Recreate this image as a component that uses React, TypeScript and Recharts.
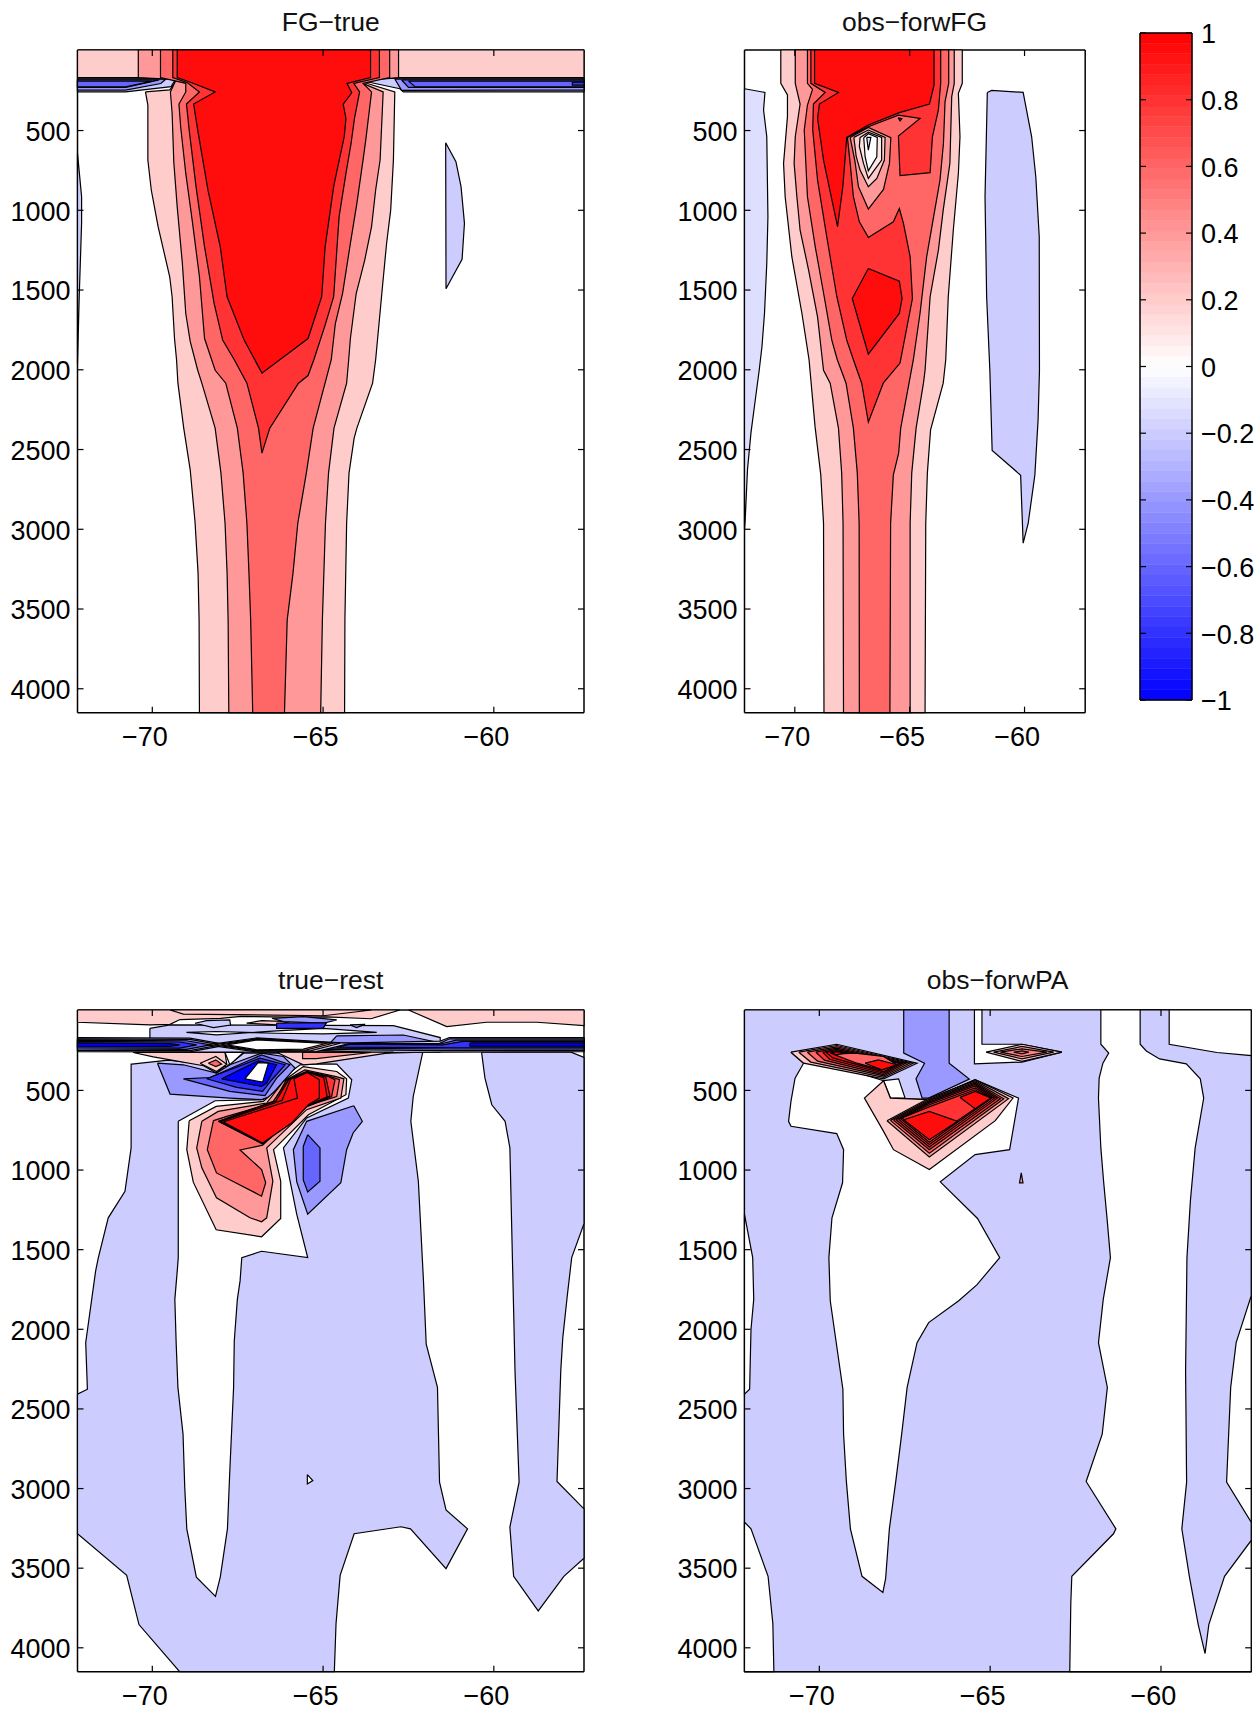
import { ScatterChart, Scatter, XAxis, YAxis, ReferenceArea } from 'recharts'

type Pt = [number, number]
type Layer = { level: number; points: Pt[] }

const lonTicks = [-70, -65, -60]
const depthTicks = [500, 1000, 1500, 2000, 2500, 3000, 3500, 4000]
const lonRange = [-72.19, -57.36]
const depthRange = [-5, 4150]
const barTicks = [-1, -0.8, -0.6, -0.4, -0.2, 0, 0.2, 0.4, 0.6, 0.8, 1]

// colorbar bands, bottom to top
const barEdges = [
  -1, -0.96875, -0.9375, -0.90625, -0.875, -0.84375, -0.8125, -0.78125, -0.75, -0.71875, -0.6875, -0.65625, -0.625,
  -0.59375, -0.5625, -0.53125, -0.5, -0.46875, -0.4375, -0.40625, -0.375, -0.34375, -0.3125, -0.28125, -0.25, -0.21875,
  -0.1875, -0.15625, -0.125, -0.09375, -0.0625, -0.03125, 0, 0.03125, 0.0625, 0.09375, 0.125, 0.15625, 0.1875, 0.21875,
  0.25, 0.28125, 0.3125, 0.34375, 0.375, 0.40625, 0.4375, 0.46875, 0.5, 0.53125, 0.5625, 0.59375, 0.625, 0.65625, 0.6875,
  0.71875, 0.75, 0.78125, 0.8125, 0.84375, 0.875, 0.90625, 0.9375, 0.96875, 1,
]
const barShades = [
  4, 11, 19, 27, 35, 43, 51, 59, 67, 75, 83, 91, 99, 107, 115, 123, 131, 139, 147, 155, 163, 171, 179, 187, 195, 203, 211,
  219, 227, 235, 243, 251,
]

// ---- FG-true ----
const fgStrip: Pt[] = [[-72.19, -5], [-57.36, -5], [-57.36, 168], [-72.19, 168]]
const fgBlueL1: Pt[] = [[-72.19, 172], [-69.3, 172], [-69.45, 225], [-70.78, 258], [-72.19, 258]]
const fgBlueL2: Pt[] = [[-72.19, 177], [-69.6, 177], [-69.75, 205], [-70.78, 246], [-72.19, 246]]
const fgBlueL3: Pt[] = [[-72.19, 183], [-69.8, 183], [-70.78, 229], [-72.19, 229]]
const fgBlueL4: Pt[] = [[-72.19, 190], [-70, 190], [-70.78, 226], [-72.19, 226]]
const fgBlueR1: Pt[] = [[-64.2, 172], [-57.36, 172], [-57.36, 258], [-62.65, 258], [-62.75, 238]]
const fgBlueR2: Pt[] = [[-62.9, 177], [-57.36, 177], [-57.36, 246], [-62.7, 248]]
const fgBlueR3: Pt[] = [[-62.7, 183], [-57.36, 183], [-57.36, 229], [-62.5, 229]]
const fgBlueR4: Pt[] = [[-62.5, 190], [-57.36, 190], [-57.36, 226], [-62.3, 226]]
const fgBlueR5: Pt[] = [[-57.7, 196], [-57.36, 196], [-57.36, 215], [-57.7, 215]]
const fgSliver: Pt[] = [[-72.19, 643], [-72.07, 915], [-72.07, 1082], [-72.14, 1542], [-72.19, 1960]]
const fgLobe: Pt[] = [[-61.41, 576], [-61.11, 695], [-60.96, 852], [-60.86, 1082], [-60.93, 1308], [-61.4, 1492]]
const fgPlume1: Pt[] = [
  [-70.2, 258], [-70.13, 340], [-70.13, 685], [-70.03, 873], [-69.83, 1103], [-69.49, 1417], [-69.42, 1542], [-69.35, 1804],
  [-69.29, 1937], [-69.25, 2084], [-69.08, 2366], [-68.89, 2627], [-68.75, 2951], [-68.66, 3275], [-68.63, 3568], [-68.62, 4150],
  [-64.37, 4150], [-64.36, 3568], [-64.31, 2962], [-64.24, 2648], [-64.09, 2429], [-64.01, 2366], [-63.55, 2084], [-63.46, 1937],
  [-63.27, 1500], [-63.14, 1208], [-63.02, 999], [-62.94, 685], [-62.9, 258], [-63.7, 205], [-64.2, 168], [-69.25, 168],
  [-69.35, 205], [-69.49, 245],
]
const fgPlume2: Pt[] = [
  [-70.41, -5], [-70.41, 168], [-69.3, 180], [-69.47, 258], [-69.42, 390], [-69.37, 700], [-69.27, 980], [-69.12, 1333],
  [-69.02, 1647], [-68.89, 1822], [-68.67, 2003], [-68.55, 2084], [-68.16, 2366], [-67.99, 2648], [-67.87, 2962], [-67.81, 3275],
  [-67.78, 3568], [-67.76, 4150], [-65.07, 4150], [-65.02, 3568], [-64.93, 2962], [-64.84, 2648], [-64.68, 2366], [-64.31, 2084],
  [-64.25, 1937], [-64.2, 1804], [-64.03, 1522], [-63.78, 1312], [-63.58, 1103], [-63.46, 873], [-63.33, 685], [-63.24, 258],
  [-64, 190], [-62.79, 168], [-62.79, -5],
]
const fgPlume3: Pt[] = [
  [-69.76, -5], [-69.76, 168], [-69.02, 204], [-69.02, 258], [-69.22, 334], [-69.17, 476], [-69.02, 769], [-68.82, 1082],
  [-68.62, 1417], [-68.47, 1804], [-68.16, 2003], [-67.85, 2084], [-67.51, 2366], [-67.34, 2648], [-67.23, 2962], [-67.17, 3275],
  [-67.12, 3568], [-67.06, 4150], [-66.13, 4150], [-66.05, 3568], [-65.88, 3275], [-65.74, 2962], [-65.49, 2648], [-65.29, 2366],
  [-64.76, 1937], [-64.64, 1710], [-64.43, 1522], [-64.2, 1208], [-64.01, 957], [-63.83, 685], [-63.75, 560], [-63.58, 258],
  [-63.83, 204], [-63.05, 168], [-63.05, -5],
]
const fgPlume4: Pt[] = [
  [-69.4, -5], [-69.4, 168], [-68.97, 200], [-68.62, 258], [-69, 334], [-68.92, 497], [-68.72, 852], [-68.47, 1229], [-68.19, 1584],
  [-67.94, 1814], [-67.6, 1937], [-67.23, 2084], [-66.89, 2366], [-66.79, 2523], [-66.56, 2366], [-65.72, 2084], [-65.44, 2036],
  [-65.27, 1937], [-64.94, 1720], [-64.69, 1542], [-64.53, 1040], [-64.33, 769], [-64.18, 581], [-64.08, 424], [-63.93, 258],
  [-64.1, 204], [-63.35, 168], [-63.35, -5],
]
const fgPlume5: Pt[] = [
  [-69.27, -5], [-69.27, 168], [-68.92, 194], [-68.16, 258], [-68.79, 334], [-68.67, 497], [-68.37, 873], [-68.01, 1229],
  [-67.81, 1542], [-67.31, 1814], [-66.79, 2021], [-65.44, 1804], [-65.04, 1542], [-64.94, 1229], [-64.69, 852], [-64.59, 748],
  [-64.38, 539], [-64.33, 424], [-64.41, 334], [-64.16, 263], [-64.3, 204], [-63.61, 168], [-63.61, -5],
]

// ---- obs-forwFG ----
const fgObsLeft: Pt[] = [
  [-72.19, 238], [-71.3, 261], [-71.36, 371], [-71.22, 539], [-71.17, 1040], [-71.22, 1333], [-71.32, 1647], [-71.43, 1856],
  [-71.55, 2003], [-71.72, 2188], [-71.91, 2397], [-72.06, 2627], [-72.16, 2941], [-72.19, 3000],
]
const fgObsRight: Pt[] = [
  [-61.62, 261], [-61.43, 248], [-60.06, 261], [-59.69, 539], [-59.51, 790], [-59.36, 1166], [-59.35, 2003], [-59.41, 2314],
  [-59.55, 2659], [-59.84, 2962], [-60.06, 3087], [-60.17, 2661], [-61.41, 2506], [-61.51, 2003], [-61.65, 1542], [-61.72, 915],
]
const fgObs1: Pt[] = [
  [-70.61, -5], [-70.61, 204], [-70.32, 277], [-70.32, 413], [-70.49, 706], [-70.42, 915], [-70.13, 1291], [-69.69, 1647],
  [-69.38, 1937], [-69.12, 2355], [-68.87, 2659], [-68.75, 2962], [-68.73, 4150], [-64.33, 4150], [-64.3, 2962], [-64.23, 2648],
  [-64.09, 2376], [-63.54, 2084], [-63.43, 1937], [-63.32, 1542], [-63.1, 1124], [-62.88, 769], [-62.81, 539], [-62.88, 267],
  [-62.71, 204], [-62.71, -5],
]
const fgObs2: Pt[] = [
  [-69.98, -5], [-69.98, 204], [-69.77, 334], [-69.98, 539], [-70.03, 706], [-69.91, 915], [-69.77, 1124], [-69.4, 1375],
  [-69.01, 1668], [-68.75, 2003], [-68.46, 2084], [-68.1, 2366], [-67.96, 2648], [-67.9, 2962], [-67.88, 4150], [-64.98, 4150],
  [-64.98, 2962], [-64.91, 2648], [-64.72, 2366], [-64.4, 2084], [-64.33, 2003], [-64.11, 1542], [-63.75, 1250], [-63.54, 999],
  [-63.25, 706], [-63.17, 288], [-63.06, 204], [-63.06, -5],
]
const fgObs3: Pt[] = [
  [-69.45, -5], [-69.45, 204], [-69.23, 242], [-69.45, 340], [-69.59, 497], [-69.45, 915], [-69.11, 1229], [-68.72, 1542],
  [-68.39, 1814], [-68.15, 1937], [-67.77, 2084], [-67.45, 2366], [-67.28, 2648], [-67.2, 2962], [-67.19, 4150], [-65.86, 4150],
  [-65.83, 2962], [-65.71, 2659], [-65.48, 2523], [-65.39, 2366], [-64.84, 1937], [-64.55, 1647], [-64.26, 1291], [-63.68, 811],
  [-63.53, 581], [-63.46, 319], [-63.3, 204], [-63.3, -5],
]
const fgObs4: Pt[] = [
  [-69.3, -5], [-69.3, 204], [-68.68, 261], [-69.19, 334], [-69.22, 497], [-69.01, 811], [-68.61, 1166], [-68.17, 1542],
  [-67.74, 1814], [-67.45, 1937], [-67.09, 2084], [-66.8, 2328], [-66.15, 2084], [-65.42, 1958], [-64.88, 1553], [-64.98, 1291],
  [-65.27, 1082], [-65.45, 989], [-65.71, 1072], [-66.8, 1170], [-67.19, 1072], [-67.45, 915], [-67.59, 706], [-67.71, 543],
  [-66.8, 476], [-65.49, 403], [-64.55, 424], [-65.49, 534], [-65.42, 783], [-64.11, 764], [-64.01, 539], [-63.75, 371],
  [-63.65, 204], [-63.65, -5],
]
const fgObs5: Pt[] = [
  [-69.14, -5], [-69.14, 204], [-68.1, 261], [-68.93, 334], [-69.01, 424], [-68.75, 685], [-68.14, 1103], [-67.91, 852],
  [-67.74, 543], [-66.8, 465], [-65.45, 388], [-64.14, 334], [-63.94, 215], [-63.94, -5],
]
const fgObsBlob: Pt[] = [[-66.8, 1365], [-65.45, 1444], [-65.33, 1553], [-65.45, 1647], [-66.8, 1902], [-67.5, 1553]]
const fgObsHole1: Pt[] = [
  [-67.59, 543], [-66.8, 480], [-65.82, 545], [-65.88, 706], [-66.14, 869], [-66.8, 992], [-67.23, 852], [-67.38, 695],
]
const fgObsHole2: Pt[] = [
  [-67.43, 543], [-66.8, 497], [-66.07, 543], [-66.1, 685], [-66.43, 800], [-66.8, 852], [-67.16, 748], [-67.33, 660],
]
const fgObsHole3: Pt[] = [
  [-67.16, 543], [-66.8, 510], [-66.22, 543], [-66.22, 685], [-66.8, 800], [-67.01, 706], [-67.19, 600],
]
const fgObsHole4: Pt[] = [[-67, 545], [-66.8, 520], [-66.41, 543], [-66.43, 664], [-66.8, 753], [-66.94, 664]]
const fgObsHole5: Pt[] = [[-66.87, 543], [-66.69, 543], [-66.8, 623]]
const fgObsDot: Pt[] = [[-65.5, 420], [-65.34, 425], [-65.42, 440]]

// ---- true-rest ----
const trMain: Pt[] = [
  [-70.6, 335], [-69.53, 310], [-67.82, 350], [-67.33, 266], [-63.14, 266], [-62.08, 260], [-62.36, 538], [-62.43, 694],
  [-62.21, 1070], [-62.06, 1696], [-61.98, 2094], [-61.65, 2365], [-61.59, 2960], [-61.4, 3134], [-60.77, 3253], [-61.4, 3503],
  [-62.44, 3253], [-62.72, 3240], [-64.09, 3284], [-64.5, 3545], [-64.62, 3848], [-64.67, 4150], [-69.2, 4150], [-70.39, 3854],
  [-70.75, 3545], [-72.19, 3284], [-72.19, 2407], [-71.9, 2376], [-71.95, 2084], [-71.66, 1635], [-71.58, 1550], [-71.29, 1300],
  [-70.8, 1133], [-70.62, 861], [-70.62, 335],
]
const trRight: Pt[] = [
  [-60.36, 260], [-60.26, 423], [-60.06, 590], [-59.67, 694], [-59.53, 861], [-59.44, 1700], [-59.38, 2261], [-59.26, 2960],
  [-59.53, 3242], [-59.42, 3551], [-58.7, 3768], [-57.95, 3551], [-57.36, 3437], [-57.36, 3128], [-58.15, 2956], [-58.04, 2261],
  [-57.98, 2052], [-57.85, 1791], [-57.72, 1550], [-57.36, 1337], [-57.36, 293], [-57.74, 260],
]
const trGap: Pt[] = [
  [-69.24, 694], [-68.16, 565], [-66.75, 558], [-66.46, 506], [-66.26, 433], [-65.67, 339], [-65.19, 333], [-64.6, 335],
  [-64.16, 433], [-64.26, 548], [-65.48, 673], [-66.16, 861], [-65.77, 1279], [-65.45, 1550], [-66.8, 1510], [-67.38, 1550],
  [-67.43, 1696], [-67.51, 1812], [-67.6, 2073], [-67.62, 2365], [-67.73, 2887], [-67.8, 3253], [-68.01, 3556], [-68.15, 3677],
  [-68.71, 3556], [-68.99, 3253], [-69.05, 2992], [-69.1, 2658], [-69.25, 2365], [-69.3, 2094], [-69.34, 1812], [-69.27, 1635],
  [-69.24, 1550],
]
const trSpeck: Pt[] = [[-65.46, 2912], [-65.3, 2950], [-65.46, 2971]]
const trPink1: Pt[] = [
  [-68.92, 690], [-68.13, 600], [-66.75, 569], [-66.36, 496], [-66.07, 427], [-65.58, 350], [-64.6, 381], [-64.31, 427],
  [-64.33, 527], [-65.43, 653], [-66.45, 872], [-66.24, 1070], [-66.24, 1304], [-66.8, 1419], [-68.13, 1375], [-68.8, 1076], [-68.99, 872],
]
const trPink2: Pt[] = [
  [-68.55, 694], [-68.07, 632], [-66.65, 579], [-66.16, 444], [-65.53, 371], [-64.65, 412], [-64.39, 427], [-64.48, 548],
  [-65.48, 621], [-66.65, 861], [-66.47, 1070], [-66.65, 1300], [-66.8, 1325], [-67.14, 1300], [-68.12, 1174], [-68.55, 986], [-68.7, 861],
]
const trPink3: Pt[] = [
  [-68.21, 690], [-67.82, 663], [-66.46, 579], [-66.07, 433], [-65.48, 381], [-64.8, 412], [-64.52, 433], [-64.6, 538],
  [-65.53, 600], [-66.77, 844], [-67.43, 874], [-66.8, 997], [-66.68, 1080], [-66.8, 1164], [-68.12, 1018], [-68.39, 872],
]
const trPink4: Pt[] = [
  [-68.07, 694], [-66.46, 569], [-66.02, 433], [-65.46, 385], [-64.85, 412], [-64.65, 433], [-64.75, 538], [-65.58, 611], [-66.77, 836],
]
const trRed0: Pt[] = [
  [-68.04, 695], [-66.38, 566], [-66, 431], [-65.46, 385], [-64.92, 416], [-64.8, 536], [-65.54, 605], [-66.77, 834],
]
const trRed1: Pt[] = [
  [-68, 696], [-66.2, 562], [-65.95, 430], [-65.46, 386], [-64.98, 420], [-64.88, 540], [-65.5, 600], [-66.77, 833],
]
const trRed2: Pt[] = [
  [-67.92, 698], [-65.75, 548], [-65.85, 427], [-65.46, 387], [-65.11, 433], [-65.11, 548], [-65.43, 590], [-65.92, 705], [-66.77, 830],
]
const trPatch1: Pt[] = [
  [-64.1, 596], [-63.85, 694], [-64.12, 767], [-64.31, 872], [-64.48, 1080], [-65.45, 1277], [-65.77, 1074], [-65.87, 872], [-65.48, 694],
]
const trPatch2: Pt[] = [[-65.45, 778], [-65.09, 861], [-65.09, 1070], [-65.45, 1137], [-65.58, 1062], [-65.58, 852]]
const trBlue1: Pt[] = [
  [-69.85, 329], [-69.48, 523], [-67.73, 548], [-66.8, 558], [-66.55, 538], [-65.82, 360], [-66.16, 287], [-66.8, 266], [-67.73, 339],
  [-68.12, 391], [-69.09, 339],
]
const trBlue2: Pt[] = [[-69.09, 427], [-68.31, 419], [-66.8, 277], [-65.97, 339], [-66.36, 423], [-66.7, 533], [-67.73, 506]]
const trBlue3: Pt[] = [[-68.41, 427], [-66.85, 297], [-66.11, 339], [-66.5, 433], [-66.77, 506], [-67.53, 481]]
const trBlue4: Pt[] = [[-67.97, 427], [-66.9, 314], [-66.36, 339], [-66.65, 454], [-66.8, 475]]
const trBlue5: Pt[] = [[-67.29, 427], [-66.9, 325], [-66.6, 329], [-66.77, 448]]
const trUpperBand: Pt[] = [[-70.07, 110], [-69.48, 89], [-62.94, 93], [-61.57, 168], [-61.57, 260], [-70.07, 260]]
const trWedge: Pt[] = [[-64.6, 158], [-62.65, 152], [-61.67, 197], [-61.7, 250], [-65, 250]]
const trLeftBand0: Pt[] = [[-72.19, 168], [-68.9, 172], [-67.8, 214], [-68.9, 258], [-72.19, 256]]
const trLeftBand1: Pt[] = [[-72.19, 176], [-68.9, 180], [-68, 214], [-68.9, 250], [-72.19, 248]]
const trLeftBand2: Pt[] = [[-72.19, 184], [-69, 188], [-68.3, 214], [-69, 242], [-72.19, 240]]
const trLeftBand3: Pt[] = [[-72.19, 192], [-69.2, 196], [-68.7, 214], [-69.2, 234], [-72.19, 232]]
const trLeftBand4: Pt[] = [[-72.19, 202], [-69.5, 206], [-69.2, 214], [-69.5, 224], [-72.19, 222]]
const trRightBand0: Pt[] = [[-64.9, 204], [-61.57, 190], [-61.3, 168], [-57.36, 168], [-57.36, 256], [-63.5, 262], [-65.5, 245]]
const trRightBand1: Pt[] = [[-64.7, 206], [-61.6, 206], [-61.3, 176], [-57.36, 176], [-57.36, 248], [-61.5, 250], [-65.2, 242]]
const trRightBand2: Pt[] = [[-64.5, 208], [-61.6, 210], [-61.1, 184], [-57.36, 184], [-57.36, 240], [-61.3, 240], [-64.9, 235]]
const trRightBand3: Pt[] = [[-64.2, 210], [-61.5, 214], [-60.9, 192], [-57.36, 192], [-57.36, 232], [-61.1, 232], [-64.6, 228]]
const trRightBand4: Pt[] = [[-60.7, 202], [-57.36, 202], [-57.36, 222], [-60.7, 222]]
const trHalo1: Pt[] = [[-68.4, 214], [-66.94, 170], [-64.2, 204], [-65.2, 256], [-66.94, 258]]
const trHalo2: Pt[] = [[-68.2, 214], [-66.94, 175], [-64.5, 204], [-65.35, 250], [-66.94, 253]]
const trHalo3: Pt[] = [[-68, 214], [-66.94, 179], [-64.7, 204], [-65.48, 245], [-66.94, 249]]
const trDiamond: Pt[] = [[-67.82, 214], [-66.94, 183], [-64.89, 204], [-65.58, 241], [-66.94, 245]]
const trPinkLeft: Pt[] = [[-70.56, 262], [-67.87, 262], [-67.82, 335], [-68.12, 391], [-68.5, 345], [-69.97, 289]]
const trPinkLeftIn: Pt[] = [[-68.6, 329], [-68.14, 287], [-67.82, 335], [-68.12, 381]]
const trPinkLeftCore: Pt[] = [[-68.36, 329], [-68.14, 308], [-67.97, 335], [-68.14, 350]]
const trPinkRight: Pt[] = [[-66.36, 260], [-62.94, 260], [-65.19, 333], [-65.58, 339]]
const trPinkRightIn: Pt[] = [[-65.6, 262], [-63.6, 262], [-65.2, 300], [-65.6, 300]]
const trNotch: Pt[] = [[-67.87, 262], [-67.33, 262], [-67.73, 339]]
const trTopLeft: Pt[] = [
  [-72.19, -5], [-72.19, 72], [-70.07, 89], [-69.48, 85], [-69.19, 55], [-68, 48], [-67.4, 35], [-66, 40], [-64.9, 38], [-63.6, 50], [-62.75, -5],
]
const trTopWedge: Pt[] = [[-69.48, -5], [-69.09, 21], [-64.99, 31], [-63.58, -5]]
const trTopRight: Pt[] = [[-62.5, -5], [-61.38, 99], [-60.21, 72], [-58.74, 72], [-57.36, 93], [-57.36, -5]]
const trLensBlue: Pt[] = [[-68.75, 78], [-68.41, 62], [-67.73, 57], [-67.71, 89], [-68.21, 105]]
const trLensPink: Pt[] = [[-67.24, 78], [-66.8, 62], [-65.97, 68], [-66.36, 89]]
const trLensMid: Pt[] = [[-66.5, 47], [-65.58, 37], [-64.6, 57], [-64.99, 78], [-66.16, 68]]
const trLensSmall: Pt[] = [[-64.21, 89], [-63.77, 85], [-64.02, 105]]
const trBar: Pt[] = [[-66.36, 78], [-64.9, 75], [-65, 110], [-66.36, 110]]
const trLensWhite: Pt[] = [
  [-69, 135], [-68.12, 151], [-66.36, 126], [-64.99, 110], [-63.43, 135], [-64.99, 145], [-66.36, 141], [-68.12, 130],
]

// ---- obs-forwPA ----
const paBase: Pt[] = [[-72.19, -5], [-57.36, -5], [-57.36, 4150], [-72.19, 4150]]
const paColumn: Pt[] = [
  [-67.53, -5], [-67.53, 266], [-66.92, 329], [-67.17, 427], [-66.99, 548], [-66.8, 548], [-65.61, 429], [-66.2, 329], [-66.2, -5],
]
const paLeftGap: Pt[] = [[-72.19, 1279], [-71.95, 1550], [-71.92, 1812], [-72, 2000], [-72.04, 2376], [-72.19, 2407]]
const paCorner: Pt[] = [[-72.19, 3211], [-72, 3253], [-71.5, 3551], [-71.36, 3848], [-71.33, 4150], [-72.19, 4150]]
const paCentre: Pt[] = [
  [-70.83, 260], [-70.46, 329], [-70.71, 423], [-70.83, 569], [-70.9, 694], [-70.83, 725], [-69.49, 771], [-69.29, 872], [-69.32, 1080],
  [-69.63, 1300], [-69.72, 1550], [-69.68, 1821], [-69.31, 2376], [-69.29, 2658], [-69.21, 2950], [-69.09, 3253], [-68.75, 3551],
  [-68.14, 3652], [-68.06, 3566], [-67.95, 3253], [-67.76, 2950], [-67.59, 2658], [-67.43, 2365], [-67.14, 2084], [-66.8, 1958],
  [-65.92, 1821], [-65.39, 1721], [-64.72, 1550], [-65.37, 1304], [-66.46, 1074], [-65.44, 903], [-64.43, 872], [-64.17, 548],
  [-65.44, 433], [-66.8, 558], [-67.92, 548], [-68.12, 439],
]
const paGapSmall: Pt[] = [[-68.12, 439], [-67.68, 427], [-67.49, 548], [-67.92, 548]]
const paBox: Pt[] = [[-65.46, -5], [-65.46, 333], [-64.07, 322], [-62.9, 260], [-64.07, 210], [-65.24, 210], [-65.24, -5]]
const paChannel: Pt[] = [
  [-61.76, -5], [-61.76, 210], [-61.53, 266], [-61.7, 329], [-61.81, 423], [-61.83, 548], [-61.76, 861], [-61.68, 1070], [-61.58, 1300],
  [-61.48, 1550], [-61.69, 1812], [-61.83, 2084], [-61.57, 2365], [-61.72, 2658], [-62.19, 2956], [-61.32, 3253], [-61.39, 3284],
  [-62.61, 3551], [-62.64, 3723], [-62.67, 4150], [-57.36, 4150], [-57.36, -5],
]
const paRight: Pt[] = [
  [-60.61, -5], [-60.61, 210], [-60.43, 252], [-60.04, 302], [-59.26, 333], [-58.85, 427], [-58.75, 548], [-59, 861], [-59.14, 1195],
  [-59.24, 1550], [-59.28, 2261], [-59.25, 2960], [-59.39, 3253], [-59.17, 3551], [-58.91, 3854], [-58.71, 4036], [-58.6, 3854],
  [-58.14, 3551], [-57.36, 3326], [-57.36, 3211], [-58.08, 2960], [-57.96, 2365], [-57.8, 2084], [-57.36, 1791], [-57.36, 281],
  [-58.36, 262], [-59.76, 210], [-59.76, -5],
]
const paDrop: Pt[] = [[-64.09, 1018], [-64.04, 1080], [-64.14, 1080]]
const paStrip0: Pt[] = [[-70.83, 260], [-69.49, 210], [-67.14, 329], [-68.12, 427], [-70.46, 329]]
const paStrip1: Pt[] = [[-70.6, 260], [-69.49, 218], [-67.25, 329], [-68.12, 418], [-70.25, 322]]
const paStrip2: Pt[] = [[-70.35, 260], [-69.49, 226], [-67.36, 329], [-68.12, 409], [-70.05, 316]]
const paStrip3: Pt[] = [[-70.1, 260], [-69.49, 234], [-67.47, 329], [-68.12, 400], [-69.85, 310]]
const paStrip4: Pt[] = [[-69.9, 261], [-69.49, 242], [-67.56, 329], [-68.12, 392], [-69.7, 304]]
const paStrip5: Pt[] = [[-69.8, 262], [-69.49, 250], [-67.64, 331], [-68.12, 383], [-69.6, 296]]
const paStripCore: Pt[] = [[-69.6, 272], [-68.95, 266], [-68.12, 287], [-67.73, 339], [-68.17, 371], [-68.9, 329]]
const paStripSpotA: Pt[] = [[-69.68, 266], [-69.49, 256], [-69.24, 266], [-69.49, 275]]
const paStripSpotB: Pt[] = [[-68.66, 329], [-68.27, 308], [-67.73, 339], [-68.17, 371]]
const paBlob0: Pt[] = [
  [-68.12, 439], [-68.68, 548], [-68.12, 757], [-67.83, 872], [-66.78, 997], [-64.85, 690], [-64.33, 548], [-65.44, 433], [-66.78, 558], [-67.92, 548],
]
const paBlob1: Pt[] = [[-68.02, 690], [-66.78, 918], [-64.46, 552], [-65.44, 439], [-66.78, 548]]
const paBlob2: Pt[] = [[-67.92, 688], [-66.78, 895], [-64.6, 552], [-65.44, 447], [-66.78, 556]]
const paBlob3: Pt[] = [[-67.83, 686], [-66.78, 872], [-64.7, 552], [-65.44, 455], [-66.78, 564]]
const paBlob4: Pt[] = [[-67.75, 684], [-66.78, 855], [-64.8, 550], [-65.44, 463], [-66.78, 572]]
const paBlob5: Pt[] = [[-67.68, 682], [-66.78, 840], [-64.88, 550], [-65.44, 472], [-66.78, 580]]
const paBlob6: Pt[] = [[-67.62, 678], [-66.78, 825], [-64.95, 548], [-65.44, 485], [-66.78, 590]]
const paBlob7: Pt[] = [[-67.58, 673], [-66.78, 809], [-64.98, 548], [-65.44, 496], [-66.75, 600]]
const paBlobSpotA: Pt[] = [[-67.53, 684], [-66.78, 632], [-65.95, 694], [-66.78, 809]]
const paBlobSpotB: Pt[] = [[-65.88, 544], [-65.44, 506], [-64.98, 548], [-65.44, 615]]
const paSpot0: Pt[] = [[-65.12, 260], [-64.07, 210], [-62.9, 260], [-64.07, 318]]
const paSpot1: Pt[] = [[-64.9, 260], [-64.07, 224], [-63.14, 260], [-64.07, 302]]
const paSpot2: Pt[] = [[-64.7, 260], [-64.07, 239], [-63.34, 260], [-64.07, 287]]
const paSpot3: Pt[] = [[-64.31, 260], [-64.07, 252], [-63.87, 260], [-64.07, 270]]

const fgTrueLayers: Layer[] = [
  { level: 0.2, points: fgStrip },
  { level: -0.2, points: fgBlueL1 }, { level: -0.4, points: fgBlueL2 }, { level: -0.6, points: fgBlueL3 }, { level: -0.6, points: fgBlueL4 },
  { level: -0.2, points: fgBlueR1 }, { level: -0.4, points: fgBlueR2 }, { level: -0.6, points: fgBlueR3 }, { level: -0.6, points: fgBlueR4 }, { level: -0.8, points: fgBlueR5 },
  { level: -0.2, points: fgSliver }, { level: -0.2, points: fgLobe },
  { level: 0.2, points: fgPlume1 }, { level: 0.4, points: fgPlume2 }, { level: 0.6, points: fgPlume3 },
  { level: 0.8, points: fgPlume4 }, { level: 0.95, points: fgPlume5 },
]
const obsFgLayers: Layer[] = [
  { level: -0.13, points: fgObsLeft }, { level: -0.2, points: fgObsRight },
  { level: 0.2, points: fgObs1 }, { level: 0.4, points: fgObs2 }, { level: 0.6, points: fgObs3 },
  { level: 0.8, points: fgObs4 }, { level: 0.95, points: fgObs5 }, { level: 0.95, points: fgObsBlob },
  { level: 0.4, points: fgObsHole1 }, { level: 0.2, points: fgObsHole2 }, { level: 0.1, points: fgObsHole3 },
  { level: 0, points: fgObsHole4 }, { level: -0.13, points: fgObsHole5 }, { level: 0.95, points: fgObsDot },
]
const trueRestLayers: Layer[] = [
  { level: -0.2, points: trUpperBand }, { level: -0.4, points: trWedge },
  { level: -0.2, points: trMain }, { level: -0.2, points: trRight }, { level: 0, points: trGap }, { level: 0, points: trSpeck },
  { level: -0.4, points: trPatch1 }, { level: -0.6, points: trPatch2 },
  { level: -0.4, points: trBlue1 }, { level: -0.6, points: trBlue2 }, { level: -0.8, points: trBlue3 },
  { level: -1, points: trBlue4 }, { level: 0, points: trBlue5 },
  { level: 0.2, points: trPink1 }, { level: 0.4, points: trPink2 }, { level: 0.6, points: trPink3 },
  { level: 0.8, points: trPink4 }, { level: 0.95, points: trRed0 }, { level: 0.95, points: trRed1 }, { level: 0.95, points: trRed2 },
  { level: -0.2, points: trLeftBand0 }, { level: -0.4, points: trLeftBand1 }, { level: -0.6, points: trLeftBand2 },
  { level: -0.8, points: trLeftBand3 }, { level: -1, points: trLeftBand4 },
  { level: -0.2, points: trRightBand0 }, { level: -0.4, points: trRightBand1 }, { level: -0.6, points: trRightBand2 },
  { level: -0.8, points: trRightBand3 }, { level: -1, points: trRightBand4 },
  { level: -0.2, points: trHalo1 }, { level: 0.2, points: trHalo2 }, { level: 0.4, points: trHalo3 }, { level: 0, points: trDiamond },
  { level: 0.2, points: trPinkLeft }, { level: 0.2, points: trPinkLeftIn }, { level: 0.6, points: trPinkLeftCore },
  { level: 0.2, points: trPinkRight }, { level: 0.4, points: trPinkRightIn }, { level: 0, points: trNotch },
  { level: 0.2, points: trTopLeft }, { level: 0.2, points: trTopWedge }, { level: 0.2, points: trTopRight },
  { level: -0.2, points: trLensBlue }, { level: 0.2, points: trLensPink }, { level: -0.4, points: trLensMid }, { level: -0.4, points: trLensSmall },
  { level: -0.8, points: trBar }, { level: 0, points: trLensWhite },
]
const obsPaLayers: Layer[] = [
  { level: -0.2, points: paBase }, { level: -0.4, points: paColumn },
  { level: 0, points: paLeftGap }, { level: 0, points: paCorner }, { level: 0, points: paCentre }, { level: 0, points: paGapSmall },
  { level: 0, points: paBox }, { level: 0, points: paChannel }, { level: -0.2, points: paRight }, { level: 0.4, points: paDrop },
  { level: 0.2, points: paStrip0 }, { level: 0.4, points: paStrip1 }, { level: 0.6, points: paStrip2 }, { level: 0.8, points: paStrip3 },
  { level: 0.95, points: paStrip4 }, { level: 0.95, points: paStrip5 },
  { level: 0.6, points: paStripCore }, { level: 0.95, points: paStripSpotA }, { level: 0.95, points: paStripSpotB },
  { level: 0.2, points: paBlob0 }, { level: 0.4, points: paBlob1 }, { level: 0.6, points: paBlob2 }, { level: 0.8, points: paBlob3 },
  { level: 0.8, points: paBlob4 }, { level: 0.8, points: paBlob5 }, { level: 0.8, points: paBlob6 }, { level: 0.8, points: paBlob7 },
  { level: 0.95, points: paBlobSpotA }, { level: 0.95, points: paBlobSpotB },
  { level: 0.2, points: paSpot0 }, { level: 0.4, points: paSpot1 }, { level: 0.5, points: paSpot2 }, { level: 0.6, points: paSpot3 },
]

const FONT = '"Liberation Sans", Arial, sans-serif'
const LABEL = { fontFamily: FONT, fontSize: 27, fill: '#000' }
const AXIS_LINE = { stroke: '#000', strokeWidth: 1.5 }
const TICK_LEN = 6
const AXIS_W = 77.5
const AXIS_H = 55
const PAD = 10
const BAR_PAD = 24

const levelFill = (level: number) => {
  const shade = Math.round(255 * (1 - Math.abs(level)))
  return level >= 0 ? `rgb(255,${shade},${shade})` : `rgb(${shade},${shade},255)`
}
const minus = (v: number) => String(v).replace('-', '\u2212')

// tick marks point into the plot, as in MATLAB
const bottomTick = ({ x, y, payload }: any) => (
  <g>
    <line x1={x} x2={x} y1={y} y2={y - TICK_LEN} stroke="#000" strokeWidth={1.2} />
    <text x={x - 7.5} y={y + 33} textAnchor="middle" {...LABEL}>{minus(payload.value)}</text>
  </g>
)
const topTick = ({ x, y }: any) => <line x1={x} x2={x} y1={y} y2={y + TICK_LEN} stroke="#000" strokeWidth={1.2} />
const leftTick = ({ x, y, payload }: any) => (
  <g>
    <line x1={x} x2={x + TICK_LEN} y1={y} y2={y} stroke="#000" strokeWidth={1.2} />
    <text x={x - 7} y={y} dy="0.38em" textAnchor="end" {...LABEL}>{payload.value}</text>
  </g>
)
const leftMark = ({ x, y }: any) => <line x1={x} x2={x + TICK_LEN} y1={y} y2={y} stroke="#000" strokeWidth={1.2} />
const rightMark = ({ x, y }: any) => <line x1={x} x2={x - TICK_LEN} y1={y} y2={y} stroke="#000" strokeWidth={1.2} />
const rightTick = ({ x, y, payload }: any) => (
  <g>
    <line x1={x} x2={x - TICK_LEN} y1={y} y2={y} stroke="#000" strokeWidth={1.2} />
    <text x={x + 9} y={y} dy="0.38em" textAnchor="start" {...LABEL}>{minus(payload.value)}</text>
  </g>
)

function ContourPanel({ title, titleGap, layers, left, top, plotWidth, plotHeight }: {
  title: string; titleGap: number; layers: Layer[]; left: number; top: number; plotWidth: number; plotHeight: number
}) {
  const corners = [{ x: lonRange[0], y: depthRange[0] }, { x: lonRange[1], y: depthRange[1] }]
  return (
    <>
      <div style={{ position: 'absolute', left, top: top - titleGap, width: plotWidth, textAlign: 'center', fontFamily: FONT, fontSize: 26.5, lineHeight: '30px', color: '#111' }}>
        {title}
      </div>
      <div style={{ position: 'absolute', left: left - AXIS_W, top: top - PAD }}>
        <ScatterChart width={AXIS_W + plotWidth + 1 + 2} height={PAD + plotHeight + AXIS_H} margin={{ top: PAD - 1, right: 2, bottom: 0, left: 0 }}>
          {layers.map((layer, i) => (
            <Scatter
              key={i}
              data={[...layer.points, layer.points[0]].map(([x, y]) => ({ x, y }))}
              shape={() => null}
              line={{ fill: levelFill(layer.level), stroke: '#000', strokeWidth: 1.2 }}
              isAnimationActive={false}
            />
          ))}
          <Scatter xAxisId="top" yAxisId="right" data={corners} shape={() => null} isAnimationActive={false} />
          <XAxis type="number" dataKey="x" domain={lonRange} ticks={lonTicks} interval={0} height={AXIS_H} tickSize={0} tickMargin={0}
            tick={bottomTick} axisLine={AXIS_LINE} tickLine={false} />
          <XAxis xAxisId="top" orientation="top" type="number" dataKey="x" domain={lonRange} ticks={lonTicks} interval={0} height={1} tickSize={0} tickMargin={0}
            tick={topTick} axisLine={AXIS_LINE} tickLine={false} />
          <YAxis type="number" dataKey="y" reversed domain={depthRange} ticks={depthTicks} interval={0} width={AXIS_W} tickSize={0} tickMargin={0}
            tick={leftTick} axisLine={AXIS_LINE} tickLine={false} />
          <YAxis yAxisId="right" orientation="right" type="number" dataKey="y" reversed domain={depthRange} ticks={depthTicks} interval={0} width={1} tickSize={0} tickMargin={0}
            tick={rightMark} axisLine={AXIS_LINE} tickLine={false} />
        </ScatterChart>
      </div>
    </>
  )
}

function ColorBar() {
  const bands = barEdges.slice(0, -1).map((low, i) => {
    const shade = i < 32 ? barShades[i] : barShades[63 - i]
    return { low, high: barEdges[i + 1], fill: i < 32 ? `rgb(${shade},${shade},255)` : `rgb(255,${shade},${shade})` }
  })
  const ends = [{ x: 0, y: -1 }, { x: 1, y: 1 }]
  return (
    <div style={{ position: 'absolute', left: 1139, top: 33 - BAR_PAD }}>
      <ScatterChart width={120} height={BAR_PAD + 667 + 24} margin={{ top: BAR_PAD - 1, right: 0, bottom: 0, left: 0 }}>
        <Scatter data={ends} shape={() => null} isAnimationActive={false} />
        <Scatter xAxisId="top" yAxisId="right" data={ends} shape={() => null} isAnimationActive={false} />
        {bands.map((b, i) => (
          <ReferenceArea key={i} x1={0} x2={1} y1={b.low} y2={b.high} fill={b.fill} fillOpacity={1} stroke={b.fill} strokeWidth={0.5} />
        ))}
        <XAxis type="number" dataKey="x" domain={[0, 1]} ticks={[0, 1]} tick={false} height={24} axisLine={AXIS_LINE} tickLine={false} />
        <XAxis xAxisId="top" orientation="top" type="number" dataKey="x" domain={[0, 1]} ticks={[0, 1]} tick={false} height={1} axisLine={AXIS_LINE} tickLine={false} />
        <YAxis type="number" dataKey="y" domain={[-1, 1]} ticks={barTicks} interval={0} width={1} tickSize={0} tickMargin={0} tick={leftMark} axisLine={AXIS_LINE} tickLine={false} />
        <YAxis yAxisId="right" orientation="right" type="number" dataKey="y" domain={[-1, 1]} ticks={barTicks} interval={0} width={67} tickSize={0} tickMargin={0}
          tick={rightTick} axisLine={AXIS_LINE} tickLine={false} />
      </ScatterChart>
    </div>
  )
}

export default function App() {
  return (
    <div style={{ position: 'absolute', left: 0, top: 0, width: 1259, height: 1711, background: '#fff', overflow: 'hidden' }}>
      <ContourPanel title={'FG\u2212true'} titleGap={43} layers={fgTrueLayers} left={77.5} top={50} plotWidth={506.5} plotHeight={662.7} />
      <ContourPanel title={'obs\u2212forwFG'} titleGap={43} layers={obsFgLayers} left={744.3} top={50} plotWidth={340.7} plotHeight={662.7} />
      <ColorBar />
      <ContourPanel title={'true\u2212rest'} titleGap={45} layers={trueRestLayers} left={77.5} top={1010} plotWidth={506.5} plotHeight={661.7} />
      <ContourPanel title={'obs\u2212forwPA'} titleGap={45} layers={obsPaLayers} left={744.3} top={1010} plotWidth={506.7} plotHeight={661.7} />
    </div>
  )
}
